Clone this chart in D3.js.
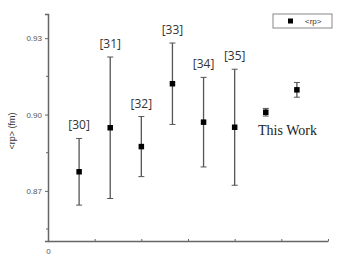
<!DOCTYPE html>
<html>
<head>
<meta charset="utf-8">
<script src="https://cdn.jsdelivr.net/npm/d3@7"></script>
<style>
  body { margin: 0; background: #fff; }
  svg { display: block; }
</style>
</head>
<body>
<div id="chart"></div>
<script>
// data
const refs = ["[30]", "[31]", "[32]", "[33]", "[34]", "[35]", "This Work", "This Work"];
const xPos = [1, 2, 3, 4, 5, 6, 7, 8];
const rp = [0.8775, 0.8948, 0.8874, 0.9121, 0.8970, 0.8950, 0.9009, 0.9097];
const err = [0.0131, 0.0278, 0.0118, 0.0160, 0.0176, 0.0228, 0.0015, 0.0029];
const yTicks = [0.87, 0.90, 0.93];
const yMinor = [0.855, 0.885, 0.915];
const xTicks = [0, 1.5, 3, 4.5, 6, 7.5, 9];

const width = 351, height = 268;
const margin = { top: 14, right: 23, bottom: 27, left: 48 };

const svg = d3.select("#chart").append("svg")
    .attr("width", width)
    .attr("height", height);

const x = d3.scaleLinear()
    .domain([0, 9])
    .range([margin.left, width - margin.right]);

const y = d3.scaleLinear()
    .domain([0.8503, 0.9395])
    .range([height - margin.bottom, margin.top]);

const axisColor = "#666";

// y axis
const yAxis = svg.append("g")
    .attr("transform", `translate(${margin.left},0)`)
    .call(d3.axisLeft(y).tickValues(yTicks).tickFormat(d3.format(".2f")).tickSize(3).tickPadding(3));
yAxis.select(".domain").attr("stroke", axisColor).attr("stroke-width", 1.5);
yAxis.selectAll(".tick line").attr("stroke", axisColor);
yAxis.selectAll(".tick text")
    .attr("fill", "#555")
    .style("font", "8px 'Liberation Sans', Arial, sans-serif");

svg.append("g")
    .selectAll("line")
    .data(yMinor)
    .join("line")
    .attr("x1", margin.left - 2).attr("x2", margin.left)
    .attr("y1", d => y(d)).attr("y2", d => y(d))
    .attr("stroke", axisColor);

// x axis
const xAxis = svg.append("g")
    .attr("transform", `translate(0,${height - margin.bottom})`)
    .call(d3.axisBottom(x).tickValues(xTicks).tickSize(-2).tickSizeOuter(0)
        .tickFormat(d => d === 0 ? "0" : ""));
xAxis.select(".domain").attr("stroke", axisColor).attr("stroke-width", 1.5);
xAxis.selectAll(".tick line").attr("stroke", axisColor);
xAxis.selectAll(".tick text")
    .attr("fill", "#555")
    .attr("dy", "1.3em")
    .style("font", "8px 'Liberation Sans', Arial, sans-serif");

// y title
svg.append("text")
    .attr("transform", `translate(12,${y(0.8935)}) rotate(-90)`)
    .attr("text-anchor", "middle")
    .attr("dy", "0.35em")
    .attr("fill", "#333")
    .style("font", "9px 'Liberation Sans', Arial, sans-serif")
    .text("<rp> (fm)");

// error bars
const bars = svg.append("g");
const pts = xPos.map((d, i) => ({ x: d, v: rp[i], e: err[i], ref: refs[i] }));

bars.selectAll(".stem")
    .data(pts)
    .join("line")
    .attr("x1", d => x(d.x)).attr("x2", d => x(d.x))
    .attr("y1", d => y(d.v - d.e)).attr("y2", d => y(d.v + d.e))
    .attr("stroke", "#555")
    .attr("stroke-width", 1.3);

["lo", "hi"].forEach(side => {
    bars.selectAll(".cap-" + side)
        .data(pts)
        .join("line")
        .attr("x1", d => x(d.x) - 3).attr("x2", d => x(d.x) + 3)
        .attr("y1", d => y(side === "lo" ? d.v - d.e : d.v + d.e))
        .attr("y2", d => y(side === "lo" ? d.v - d.e : d.v + d.e))
        .attr("stroke", "#555")
        .attr("stroke-width", 1);
});

// markers
svg.append("g")
    .selectAll("rect")
    .data(pts)
    .join("rect")
    .attr("x", d => x(d.x) - 2.75)
    .attr("y", d => y(d.v) - 2.75)
    .attr("width", 5.5)
    .attr("height", 5.5)
    .attr("fill", "#000");

// reference labels
svg.append("g")
    .selectAll("text")
    .data(pts.slice(0, 6))
    .join("text")
    .attr("x", d => x(d.x))
    .attr("y", d => y(d.v + d.e) - 9)
    .attr("text-anchor", "middle")
    .attr("fill", "#333")
    .style("font", "12px 'Open Sans', 'Liberation Sans', sans-serif")
    .text(d => d.ref);

svg.append("text")
    .attr("x", 258)
    .attr("y", 135)
    .attr("fill", "#222")
    .style("font", "14px 'Liberation Serif', 'Times New Roman', serif")
    .text("This Work");

// legend
const lg = svg.append("g").attr("transform", "translate(273,14)");
lg.append("rect")
    .attr("width", 59).attr("height", 14)
    .attr("fill", "#fff")
    .attr("stroke", "#888")
    .attr("stroke-width", 1);
lg.append("rect")
    .attr("x", 15).attr("y", 4.5)
    .attr("width", 5).attr("height", 5)
    .attr("fill", "#000");
lg.append("text")
    .attr("x", 32).attr("y", 7)
    .attr("dy", "0.35em")
    .attr("fill", "#333")
    .style("font", "8px 'Liberation Sans', Arial, sans-serif")
    .text("<rp>");
</script>
</body>
</html>
